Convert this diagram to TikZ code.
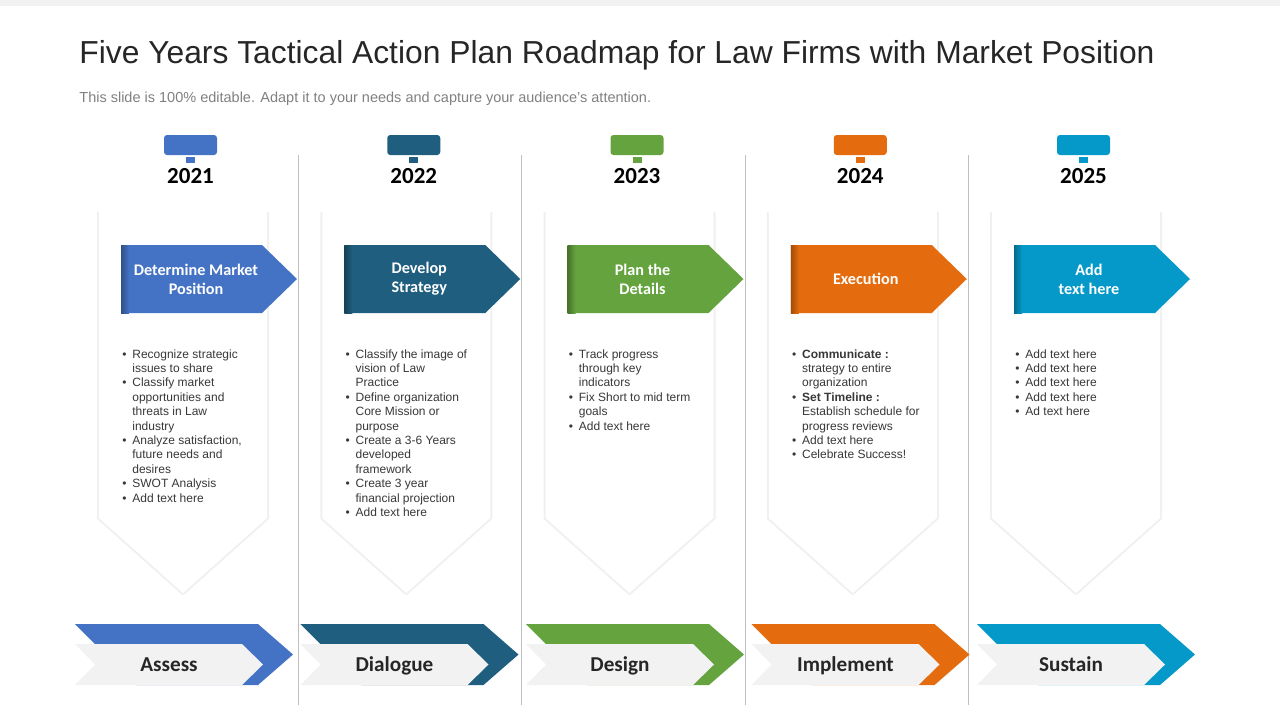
\documentclass[tikz,border=0pt]{standalone}
\usepackage{fontspec}
\setmainfont{Liberation Sans}
\newfontfamily\calfont{Carlito}
\tikzset{
    sepline/.style={
            draw=black!25,
            line width=0.5pt
        },
    cardshadow/.style={
            draw=black!6,
            line width=2pt, % soft edge round the card
            line join=round
        },
    yeartext/.style={
            font=\calfont\bfseries\fontsize{11.5}{13}\selectfont,
            inner sep=0pt
        },
    bannertext/.style={
            font=\calfont\bfseries\fontsize{8.1}{9.6}\selectfont,
            text=white,
            align=center,
            inner sep=0pt
        },
    bullettext/.style={
            font=\fontsize{6}{7.2}\selectfont,
            text=black!78,
            align=left,
            anchor=north west,
            inner sep=0pt
        },
    stagetext/.style={
            font=\calfont\bfseries\fontsize{10.6}{12}\selectfont,
            text=black!85,
            anchor=base,
            inner sep=0pt
        }
}
\definecolor{assess}{RGB}{68,114,196}
\definecolor{dialogue}{RGB}{31,94,126}
\definecolor{design}{RGB}{101,163,63}
\definecolor{implement}{RGB}{228,108,14}
\definecolor{sustain}{RGB}{5,153,201}
\definecolor{chevgray}{RGB}{242,242,242}
% bullet and hanging line
\newcommand{\bp}{\makebox[5pt][l]{•}}
\newcommand{\bq}{\hspace*{5pt}}
% one year column: name, shift, colour, year, banner, bullets
\newcommand{\roadcolumn}[6]{%
    \begin{scope}[xshift=#2]
        \fill[#3, rounded corners=1.5pt] (164,135) rectangle (217,155);
        \fill[#3] (186,157) rectangle (195,163);
        \node[yeartext] (y#1) at (190.5,176) {#4};
        %
        \draw[cardshadow] (99,212) -- (99,518) -- (183,593) -- (267,518) -- (267,212);
        \fill[white] (99,212) -- (99,518) -- (183,593) -- (267,518) -- (267,212) -- cycle;
        %
        \fill[#3] (121,245) -- (262,245) -- (297,279) -- (262,313) -- (121,313) -- cycle;
        \shade[left color=#3!70!black, right color=#3] (121,245) rectangle (129,313);
        \node[bannertext] (b#1) at (196,279) {#5};
        \node[bullettext] (t#1) at (122,349) {#6};
    \end{scope}
}
% one bottom chevron: name, shift, colour, label
\newcommand{\stagechevron}[4]{%
    \begin{scope}[xshift=#2]
        \fill[#3] (75,624) -- (258,624) -- (293,654.5) -- (258,685) -- (136,685) -- cycle;
        \fill[chevgray] (75,644) -- (242,644) -- (263,664.5) -- (242,685) -- (75,685) -- (95,664.5) -- cycle;
        \node[stagetext] (l#1) at (169,671) {#4};
    \end{scope}
}

\begin{document}
\begin{tikzpicture}[x=0.5pt, y=-0.5pt]
    \useasboundingbox (0,0) rectangle (1280,720);
    \fill[chevgray] (0,0) rectangle (1280,6);
    %
    \node[anchor=base west, inner sep=0pt, text=black!85,
        font=\fontsize{15.9}{18}\selectfont] (title) at (79,63)
        {Five Years Tactical Action Plan Roadmap for Law Firms with Market Position};
    \node[anchor=base west, inner sep=0pt, text=black!50,
        font=\fontsize{7.25}{8}\selectfont] (subtitle) at (79,102)
        {This slide is 100\% editable. Adapt it to your needs and capture your audience's attention.};
    %
    \draw[sepline]
    (298,155) -- (298,705)
    (521,155) -- (521,705)
    (745,155) -- (745,705)
    (968,155) -- (968,705)
    ;
    %
    \roadcolumn{one}{0pt}{assess}{2021}{Determine Market\\Position}{%
        \bp Recognize strategic\\
        \bq issues to share\\
        \bp Classify market\\
        \bq opportunities and\\
        \bq threats in Law\\
        \bq industry\\
        \bp Analyze  satisfaction,\\
        \bq future needs and\\
        \bq desires\\
        \bp SWOT Analysis\\
        \bp Add text here}
    \roadcolumn{two}{111.625pt}{dialogue}{2022}{Develop\\Strategy}{%
        \bp Classify the image of\\
        \bq vision of Law\\
        \bq Practice\\
        \bp Define organization\\
        \bq Core Mission or\\
        \bq purpose\\
        \bp Create a 3-6 Years\\
        \bq developed\\
        \bq framework\\
        \bp Create 3 year\\
        \bq financial projection\\
        \bp Add text here}
    \roadcolumn{three}{223.25pt}{design}{2023}{Plan the\\Details}{%
        \bp Track progress\\
        \bq through key\\
        \bq indicators\\
        \bp Fix Short to mid term\\
        \bq goals\\
        \bp Add text here}
    \roadcolumn{four}{334.875pt}{implement}{2024}{Execution}{%
        \bp \textbf{Communicate :}\\
        \bq strategy to entire\\
        \bq organization\\
        \bp \textbf{Set Timeline :}\\
        \bq Establish schedule for\\
        \bq progress reviews\\
        \bp Add  text here\\
        \bp Celebrate Success!}
    \roadcolumn{five}{446.5pt}{sustain}{2025}{Add\\text here}{%
        \bp Add text here\\
        \bp Add text here\\
        \bp Add text here\\
        \bp Add text here\\
        \bp Ad text here}
    %
    \stagechevron{one}{0pt}{assess}{Assess}
    \stagechevron{two}{112.75pt}{dialogue}{Dialogue}
    \stagechevron{three}{225.5pt}{design}{Design}
    \stagechevron{four}{338.25pt}{implement}{Implement}
    \stagechevron{five}{451pt}{sustain}{Sustain}
\end{tikzpicture}
\end{document}
